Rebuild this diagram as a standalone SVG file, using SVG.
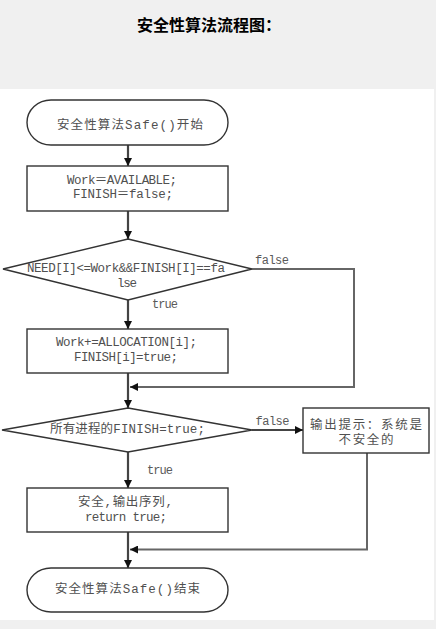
<svg xmlns="http://www.w3.org/2000/svg" width="436" height="629" viewBox="0 0 436 629">
<style>
.bg{fill:#f0f0f0}
.shape{fill:#fff;stroke:#333;stroke-width:1.4}
.t{font-family:"Liberation Mono","Noto Sans CJK SC",monospace;font-size:12.5px;fill:#505050;text-anchor:middle}
.lbl{font-family:"Liberation Mono","Noto Sans CJK SC",monospace;font-size:12px;fill:#5a5a5a;text-anchor:middle}
.title{font-family:"Noto Sans CJK SC","Noto Sans",sans-serif;font-size:16px;font-weight:bold;fill:#000;text-anchor:middle}
.c{fill:none;stroke:#444;stroke-width:2.2}
.c2{fill:none;stroke:#666;stroke-width:2}
</style>
<defs>
<marker id="arr" markerUnits="userSpaceOnUse" markerWidth="8" markerHeight="8" refX="8" refY="4" orient="auto">
<path d="M0,0 L8,4 L0,8 z" fill="#111"/>
</marker>
</defs>
<rect class="bg" x="0" y="0" width="436" height="629"/>
<rect x="0" y="89" width="434" height="531" fill="#fff"/>
<text class="title" x="209" y="31">安全性算法流程图：</text>

<g id="connectors">
<line class="c" x1="128" y1="145" x2="128" y2="166" marker-end="url(#arr)"/>
<line class="c" x1="128" y1="211" x2="128" y2="239" marker-end="url(#arr)"/>
<line class="c" x1="128" y1="300" x2="128" y2="329" marker-end="url(#arr)"/>
<line class="c" x1="128" y1="373" x2="128" y2="408" marker-end="url(#arr)"/>
<polyline class="c2" points="252,269 354,269 354,387 130,387" marker-end="url(#arr)"/>
<line class="c" x1="252" y1="430" x2="303" y2="430" marker-end="url(#arr)"/>
<line class="c" x1="128" y1="452" x2="128" y2="488" marker-end="url(#arr)"/>
<line class="c" x1="128" y1="532" x2="128" y2="568" marker-end="url(#arr)"/>
<polyline class="c2" points="367,453 367,549.5 130,549.5" marker-end="url(#arr)"/>
<text class="lbl" x="272" y="264" textLength="34">false</text>
<text class="lbl" x="165" y="308" textLength="26">true</text>
<text class="lbl" x="272.5" y="425" textLength="34">false</text>
<text class="lbl" x="160" y="474" textLength="26">true</text>
</g>

<g id="start">
<rect class="shape" x="27" y="100" width="201" height="45" rx="24" ry="22.5"/>
<text class="t" x="130" y="128.5" textLength="146">安全性算法Safe()开始</text>
</g>

<g id="init">
<rect class="shape" x="27" y="166" width="201" height="45"/>
<text class="t" x="122" y="184" textLength="110">Work＝AVAILABLE;</text>
<text class="t" x="123" y="198" textLength="100">FINISH＝false;</text>
</g>

<g id="check">
<polygon class="shape" points="128,239 252,269 128,300 3,269"/>
<text class="t" x="126" y="272" textLength="198">NEED[I]&lt;=Work&amp;&amp;FINISH[I]==fa</text>
<text class="t" x="127" y="287" textLength="20">lse</text>
</g>

<g id="update">
<rect class="shape" x="27" y="329" width="201" height="44"/>
<text class="t" x="126.5" y="346" textLength="141">Work+=ALLOCATION[i];</text>
<text class="t" x="126" y="361" textLength="104">FINISH[i]=true;</text>
</g>

<g id="allfinish">
<polygon class="shape" points="128,408 252,430 128,452 2,430"/>
<text class="t" x="127.5" y="432.5" textLength="155">所有进程的FINISH=true;</text>
</g>

<g id="unsafe">
<rect class="shape" x="303" y="408" width="126" height="45"/>
<text class="t" x="366" y="429" textLength="112">输出提示：系统是</text>
<text class="t" x="366" y="443.5" textLength="55">不安全的</text>
</g>

<g id="safe">
<rect class="shape" x="27" y="488" width="201" height="44"/>
<text class="t" x="125.5" y="506" textLength="95">安全,输出序列,</text>
<text class="t" x="126" y="521" textLength="82">return true;</text>
</g>

<g id="end">
<rect class="shape" x="27" y="568" width="201" height="44" rx="24" ry="22"/>
<text class="t" x="127.5" y="593" textLength="145">安全性算法Safe()结束</text>
</g>
</svg>
